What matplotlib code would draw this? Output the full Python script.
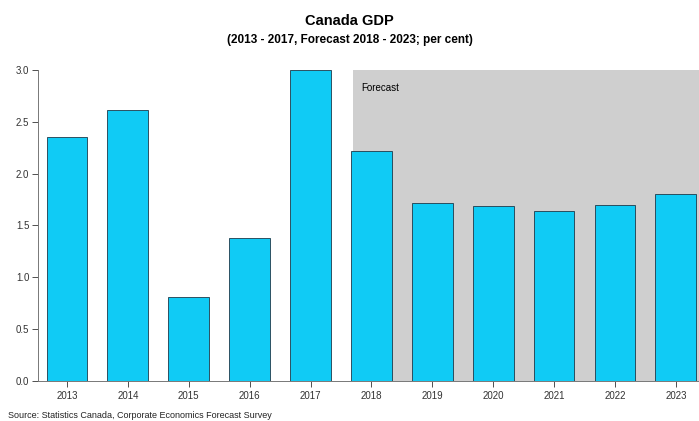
import matplotlib
matplotlib.use("Agg")
import matplotlib.pyplot as plt
import numpy as np

plt.rcParams['font.family'] = ['Liberation Sans', 'DejaVu Sans']

years = ['2013', '2014', '2015', '2016', '2017', '2018', '2019', '2020', '2021', '2022', '2023']
gdp = [2.35, 2.61, 0.81, 1.38, 3.0, 2.22, 1.72, 1.69, 1.64, 1.70, 1.80]
forecast_start = '2018'

fig = plt.figure(figsize=(6.99, 4.21), dpi=100)
ax = fig.add_axes([0.054, 0.095, 0.946, 0.739])

x = np.arange(len(years))
fc = years.index(forecast_start)

# grey forecast band
ax.axvspan(fc - 0.31, x[-1] + 1, ymin=0, ymax=1, color='#cfcfcf', zorder=0, lw=0)
ax.text(fc - 0.17, 2.83, 'Forecast', fontsize=7, va='center', ha='left', zorder=3)

ax.bar(x, gdp, width=0.67, color='#10cbf5', edgecolor='#1d3a4a', linewidth=0.6, zorder=2)

ax.set_xlim(-0.48, 10.38)
ax.set_ylim(0, 3.0)
ax.set_xticks(x)
ax.set_xticklabels(years)
ax.set_yticks(np.arange(0, 3.01, 0.5))
ax.set_yticklabels([f'{v:.1f}' for v in np.arange(0, 3.01, 0.5)])
ax.tick_params(axis='both', labelsize=7, colors='#333333', length=4, width=0.6)
ax.tick_params(axis='y', pad=2)

for s in ['top', 'right']:
    ax.spines[s].set_visible(False)
for s in ['left', 'bottom']:
    ax.spines[s].set_color('#777777')
    ax.spines[s].set_linewidth(0.7)

fig.text(0.5, 0.951, 'Canada GDP', ha='center', va='center', fontsize=10.5, fontweight='bold')
fig.text(0.5, 0.904, '(2013 - 2017, Forecast 2018 - 2023; per cent)', ha='center', va='center',
         fontsize=8.5, fontweight='bold')
fig.text(0.012, 0.014, 'Source: Statistics Canada, Corporate Economics Forecast Survey',
         ha='left', va='center', fontsize=6.5, color='#222222')

fig.savefig('out.png', dpi=100)
